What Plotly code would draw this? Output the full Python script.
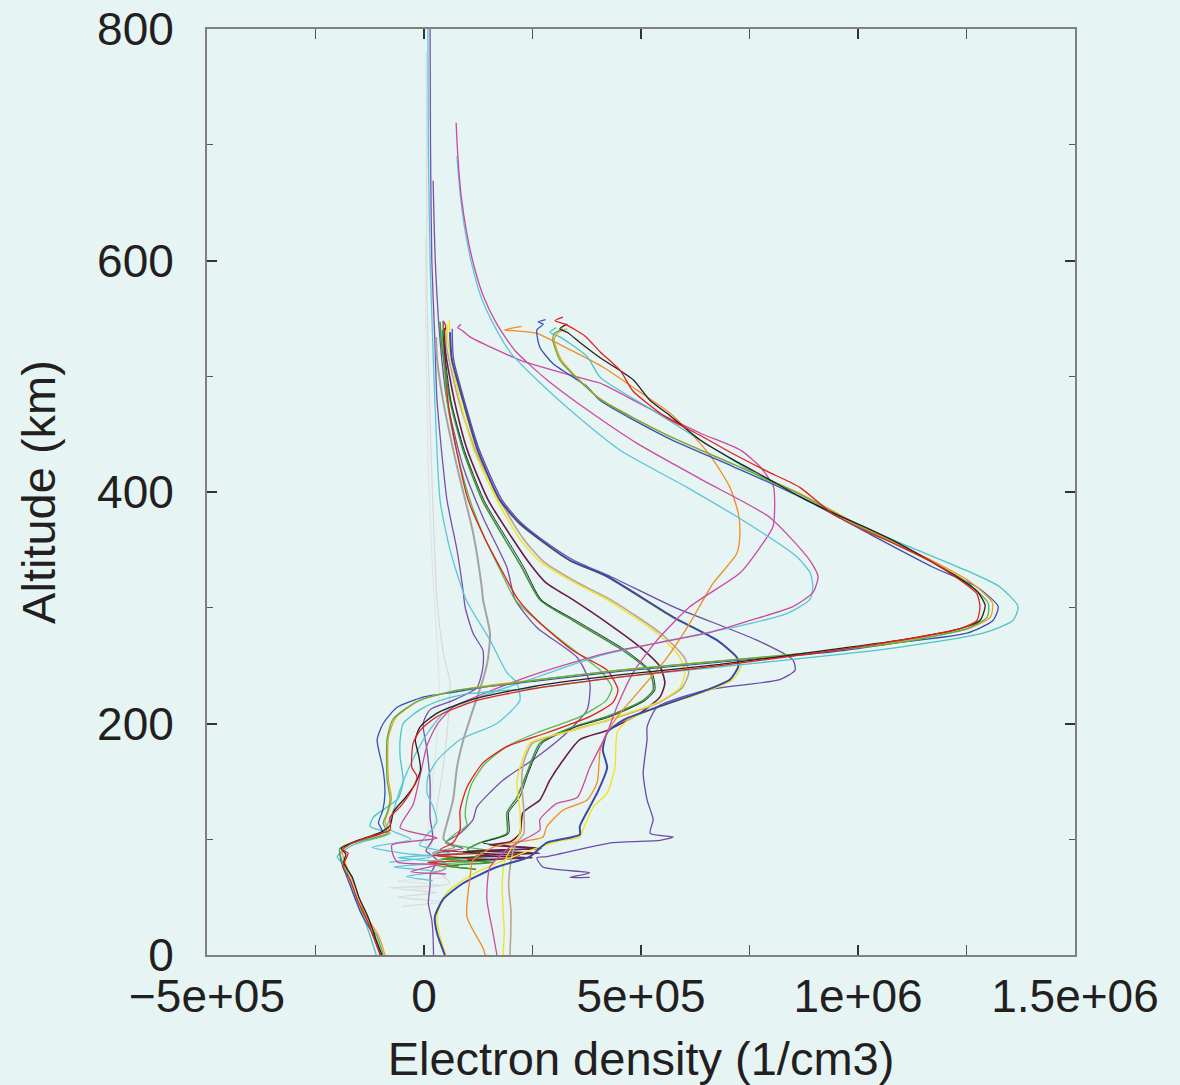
import plotly.graph_objects as go

# Electron density profiles: (density in units of 1e5 cm^-3, altitude in km)
SCALE = 1e5

red_hi = [(3.2,551),(3.02,548),(3.25,545),(3.7,535),(4.06,521),(4.52,505),(4.82,487),(5.6,464),(6.36,449),(7.12,433),(7.9,418),(8.66,404),(9.42,381),(10.2,366),(10.97,353),(11.73,339),(12.35,324),(12.74,312),(12.81,301),(12.74,289),(12.35,282),(10.97,272),(9.42,263),(6.82,250),(4.5,240),(2.67,231),(1.13,219),(0.3,206),(-0.09,194),(-0.25,183),(-0.28,162),(-0.16,154),(-0.32,140),(-0.55,128),(-0.78,119),(-0.78,108),(-1.08,104),(-1.64,97),(-1.87,91),(-1.75,88),(-1.87,76),(-1.7,65),(-1.54,48),(-1.31,30),(-1.17,16),(-1.01,0)]
black_hi = [(3.3,545),(3.13,541),(3.3,538),(3.6,529),(4.06,516),(4.82,497),(5.21,479),(5.6,468),(6.36,445),(7.12,428),(7.9,412),(8.66,396),(9.42,382),(10.2,369),(10.97,355),(11.73,339),(12.35,325),(12.75,314),(12.93,302),(12.81,289),(12.35,282),(10.97,272),(9.42,264),(6.82,251),(4.5,242),(2.67,233),(1.13,221),(0.3,209),(-0.09,197),(-0.2,186),(-0.12,172),(-0.08,160),(-0.2,148),(-0.45,135),(-0.7,124),(-0.78,112),(-1.0,106),(-1.6,98),(-1.9,92),(-1.8,87),(-1.85,80),(-1.65,67),(-1.5,50),(-1.28,32),(-1.12,15),(-0.97,0)]
green_hi = [(3.2,541),(3.0,537),(2.97,531),(3.13,514),(3.5,499),(4.06,480),(5.6,449),(7.12,424),(8.66,398),(10.2,367),(11.73,339),(12.51,322),(13.0,304),(12.98,292),(12.51,282),(10.97,270),(9.42,263),(6.82,254),(4.5,246),(2.67,238),(1.5,232),(0.67,228),(-0.16,219),(-0.71,204),(-0.85,187),(-0.85,151),(-0.78,134),(-0.85,123),(-0.94,114),(-0.85,105),(-1.64,97),(-1.94,92),(-1.87,79),(-1.64,59),(-1.41,36),(-1.08,16),(-0.94,0)]
orange_hi = [(3.3,541),(3.1,538),(3.0,532),(3.15,515),(3.52,499),(4.08,480),(5.62,449),(7.14,424),(8.7,398),(10.25,367),(11.8,339),(12.6,322),(13.1,304),(13.05,292),(12.55,282),(10.97,271),(9.42,263),(6.82,254),(4.5,246),(2.67,238),(1.5,233),(0.67,228),(-0.1,220),(-0.65,205),(-0.82,188),(-0.82,152),(-0.75,135),(-0.82,124),(-0.9,115),(-0.8,106),(-1.6,98),(-1.9,93),(-1.82,80),(-1.6,60),(-1.38,37),(-1.05,17),(-0.9,0)]
blue_hi = [(2.8,549),(2.63,547),(2.75,545),(2.6,540),(2.67,525),(2.97,511),(3.76,491),(4.06,479),(5.6,447),(7.12,422),(8.66,396),(10.2,365),(11.73,335),(12.74,318),(13.23,301),(13.11,289),(12.51,278),(10.97,270),(9.42,262),(6.82,253),(4.5,245),(2.67,237),(1.5,232),(0.67,227),(0.0,223),(-0.62,214),(-0.94,200),(-1.08,186),(-1.0,170),(-0.94,160),(-0.9,140),(-0.95,125),(-1.05,114),(-0.95,106),(-1.64,97),(-1.94,92),(-1.9,80),(-1.7,60),(-1.45,36),(-1.15,16),(-1.0,0)]
teal_hi = [(3.05,542),(2.9,538),(3.13,534),(3.76,517),(4.06,499),(5.21,472),(6.36,445),(7.9,410),(9.42,382),(10.97,356),(12.51,332),(13.27,318),(13.69,301),(13.57,289),(12.88,278),(10.97,266),(9.42,259),(6.82,249),(4.5,240),(2.67,231),(0.9,225),(0.3,219),(-0.09,212),(-0.48,200),(-0.55,186),(-0.55,171),(-0.48,150),(-0.6,135),(-1.17,119),(-1.24,111),(-0.78,105),(-1.64,95),(-2.0,85),(-1.8,76),(-1.64,54),(-1.31,24),(-1.1,0)]

orange_mid = [(2.25,543),(1.85,540),(2.2,539),(2.6,537),(3.36,523),(4.12,508),(4.91,488),(5.67,468),(6.29,445),(6.66,428),(7.05,404),(7.24,382),(7.28,365),(7.21,347),(6.66,321),(6.13,287),(5.6,257),(4.98,229),(4.52,209),(4.22,192),(4.06,177),(3.99,149),(3.76,134),(3.2,125),(2.83,111),(2.74,102),(2.05,97),(1.59,93),(1.13,82),(1.06,67),(0.99,33),(1.36,6),(1.41,0)]
magenta_hi = [(0.74,719),(0.78,690),(0.86,655),(0.98,625),(1.14,597),(1.36,570),(1.68,545),(2.1,522),(2.83,497),(3.76,471),(4.91,442),(6.43,410),(7.97,378),(8.89,341),(9.08,327),(8.96,313),(8.5,301),(7.51,289),(6.52,278),(4.22,261),(2.67,244),(1.45,227),(0.67,214),(0.3,199),(0.07,181),(-0.09,155),(-0.25,130),(-0.55,110),(0.3,101),(-0.74,95),(-0.7,85),(-0.6,80),(0.3,78),(-0.3,72),(0.5,70)]
cyan_hi = [(0.76,690),(0.84,655),(0.95,625),(1.1,597),(1.3,570),(1.6,545),(2.0,520),(2.6,497),(3.36,471),(4.52,436),(6.06,404),(7.58,370),(8.59,344),(8.9,330),(8.96,318),(8.89,307),(8.36,295),(7.12,283),(6.2,276),(4.1,259),(2.67,241),(1.29,223),(0.48,210),(0.05,190),(-0.32,164),(-0.55,143),(-0.7,125),(-0.85,110),(-0.3,100),(-1.2,93),(-0.5,88),(0.2,85),(-0.8,80)]
magenta_bulge = [(0.85,545),(0.78,542),(0.9,539),(1.06,534),(2.21,514),(3.76,497),(4.06,494),(5.2,472),(6.36,451),(7.3,436),(7.74,422),(8.05,405),(8.08,390),(8.04,370),(7.74,352),(7.28,330),(6.13,301),(5.37,272),(4.82,244),(4.45,215),(4.22,192),(3.82,162),(3.53,136),(3.06,131),(2.67,117),(2.67,108),(1.98,93),(1.52,76),(1.45,48),(1.59,19),(1.68,0)]

grey_mid = [(0.28,534),(0.3,515),(0.44,479),(0.76,422),(1.13,365),(1.33,318),(1.36,307),(1.52,278),(1.47,255),(1.36,238),(1.13,212),(0.9,185),(0.76,162),(0.67,134),(0.53,114),(0.45,100),(0.7,93),(0.2,88),(0.6,84),(0.1,80),(0.5,75),(0.15,70)]
grey_faint = [(0.05,780),(0.06,700),(0.07,566),(0.15,450),(0.3,307),(0.45,260),(0.6,235),(0.55,200),(0.44,162),(0.3,128),(0.2,100),(0.1,80),(0.6,62),(-0.8,58),(0.3,54),(-0.6,50),(0.4,46),(-0.5,42)]
grey_faint2 = [(0.03,620),(0.05,520),(0.1,420),(0.2,330),(0.3,270),(0.35,230),(0.3,190),(0.2,150),(0.1,110),(0.05,85),(0.5,68),(-0.6,64),(0.4,60),(-0.4,56)]
cyan_top = [(0.09,800),(0.1,700),(0.14,600),(0.2,531),(0.25,479),(0.37,393),(0.6,350),(0.97,307),(1.52,272),(1.91,244),(2.14,235),(2.21,220),(1.68,200),(0.83,186),(0.3,168),(0.09,154),(0.07,140),(0.21,128),(0.3,115),(0.1,105),(-0.1,95),(0.6,88),(-0.6,84),(0.5,80),(-0.7,76),(0.3,72),(-0.4,68),(0.2,64)]
purple_top = [(0.14,800),(0.15,700),(0.18,600),(0.25,531),(0.3,479),(0.53,393),(0.76,350),(0.9,315),(0.95,300),(1.13,278),(1.36,263),(1.36,249),(1.22,231),(0.67,220),(0.14,212),(-0.02,200),(0.07,177),(0.14,149),(0.14,119),(0.2,100),(0.05,90),(0.3,82),(0.15,70),(0.14,60),(0.1,45),(0.18,30),(0.21,15),(0.22,0)]
purple_c1 = [(0.21,669),(0.26,600),(0.37,531),(0.53,479),(0.9,422),(1.36,378),(1.91,335),(2.1,307),(2.6,283),(3.53,257),(3.82,235),(3.76,212),(3.29,192),(2.6,171),(1.82,151),(1.22,128),(1.13,117),(0.83,105),(0.5,97),(0.9,92),(0.3,88),(0.8,84)]
green_c2 = [(0.42,540),(0.44,525),(0.53,479),(0.75,436),(1.06,393),(1.4,360),(1.75,333),(2.1,307),(2.6,289),(3.36,266),(4.06,246),(4.33,231),(4.2,220),(3.6,206),(2.6,192),(1.9,180),(1.4,165),(1.1,148),(0.99,134),(0.95,120),(0.99,112),(0.7,104),(0.5,97),(1.5,90),(0.3,86),(1.7,82),(0.2,78),(1.0,75)]
red_c3 = [(0.46,547),(0.5,543),(0.47,530),(0.55,479),(0.75,436),(1.02,393),(1.4,360),(1.78,333),(2.17,307),(2.67,287),(3.43,263),(4.22,246),(4.47,229),(4.35,218),(3.82,206),(2.83,192),(1.91,180),(1.36,166),(0.99,145),(0.83,125),(0.83,108),(0.67,97),(0.37,91),(1.3,88),(0.2,86),(1.45,82),(0.1,80),(0.8,77)]
dkgreen_c4 = [(0.37,547),(0.4,530),(0.6,479),(0.9,436),(1.34,393),(1.85,360),(2.25,335),(2.67,307),(3.43,289),(4.59,263),(5.21,244),(5.28,229),(5.05,220),(4.22,206),(3.43,197),(2.67,183),(2.37,157),(2.14,136),(1.91,123),(1.91,105),(1.29,97),(0.99,91),(1.5,86),(0.4,83),(1.6,80),(0.5,77),(1.2,74)]
black_c4 = [(0.44,548),(0.45,530),(0.62,479),(0.93,436),(1.38,393),(1.9,360),(2.3,335),(2.7,307),(3.5,289),(4.65,263),(5.25,244),(5.32,229),(5.1,220),(4.3,206),(3.5,197),(2.72,183),(2.4,157),(2.2,136),(1.95,123),(1.95,105),(1.35,97),(2.6,92),(0.9,89),(2.2,86),(0.7,84)]
maroon_c5 = [(0.48,542),(0.5,520),(0.7,479),(1.0,436),(1.48,393),(2.0,362),(2.4,340),(2.8,322),(3.43,307),(4.22,287),(4.98,266),(5.44,249),(5.55,235),(5.44,223),(4.98,209),(4.22,194),(3.59,186),(3.2,168),(2.9,151),(2.67,134),(2.28,123),(2.21,105),(2.0,98),(1.5,95),(2.7,92),(1.1,90),(2.67,88),(1.2,86),(2.5,84),(1.0,82)]
yellow_c6 = [(0.53,545),(0.55,530),(0.83,479),(1.15,436),(1.68,393),(2.2,360),(2.67,340),(3.45,322),(4.22,307),(5.37,278),(5.9,257),(6.01,244),(5.9,231),(5.37,218),(4.22,203),(3.43,194),(2.44,183),(2.21,162),(2.14,149),(2.21,125),(2.21,105),(2.05,95),(1.85,80),(1.8,60),(1.82,40),(1.85,20),(1.82,0)]
tan_c6 = [(0.5,540),(0.52,525),(0.8,479),(1.18,436),(1.75,393),(2.28,360),(2.75,340),(3.52,322),(4.3,307),(5.45,278),(6.0,257),(6.1,244),(5.95,231),(5.4,218),(4.25,203),(3.4,194),(2.5,183),(2.3,167),(2.25,149),(2.3,125),(2.3,105),(2.1,95),(2.0,80),(1.95,60),(2.0,40),(2.0,20),(1.98,0)]
blue_c7 = [(0.6,538),(0.64,515),(0.9,479),(1.24,436),(1.75,393),(2.2,373),(2.67,359),(3.36,341),(4.22,327),(5.74,292),(6.75,272),(7.21,257),(7.24,249),(7.05,238),(6.52,229),(5.37,214),(4.59,203),(4.22,192),(4.12,177),(4.22,162),(3.99,140),(3.82,128),(3.59,111),(3.59,104),(2.83,97),(2.44,85),(1.68,76),(0.9,62),(0.44,48),(0.25,33),(0.3,19),(0.48,0)]
yellow_c7 = [(0.58,549),(0.62,520),(0.88,479),(1.22,436),(1.72,393),(2.18,373),(2.65,359),(3.34,341),(4.2,327),(5.7,292),(6.75,272),(7.2,257),(7.3,249),(7.12,238),(6.6,229),(5.4,214),(4.7,203),(4.45,192),(4.4,162),(4.22,140),(3.9,128),(3.66,108),(3.59,102),(3.06,98),(2.2,87),(1.13,70),(0.5,53),(0.3,33),(0.35,19),(0.5,0)]
purple_c8 = [(0.65,541),(0.68,515),(0.93,479),(1.28,436),(1.8,393),(2.25,373),(2.72,359),(3.45,341),(4.3,327),(5.74,301),(7.67,272),(8.5,255),(8.55,246),(8.2,238),(6.52,229),(5.37,214),(5.14,197),(5.14,186),(5.05,157),(5.14,134),(5.28,117),(5.21,105),(5.74,102),(5.44,99),(4.35,97),(2.83,85),(2.6,84),(2.74,76),(3.82,71),(3.36,67),(3.82,67)]

# Axis ticks
x_tick_vals = [-5e5, 0, 5e5, 1e6, 1.5e6]
x_tick_text = ["\u22125e+05", "0", "5e+05", "1e+06", "1.5e+06"]
x_minor_vals = [-2.5e5, 2.5e5, 7.5e5, 1.25e6]
y_tick_vals = [0, 200, 400, 600, 800]
y_minor_vals = [100, 300, 500, 700]

BG = "#e6f4f3"

# (profile, colour, line width) in drawing order
traces = [
    (grey_faint2, "#e2e2e2", 1.0),
    (grey_faint, "#d9d9d9", 1.2),
    (purple_top, "#7a4fa6", 1.3),
    (cyan_top, "#5cc6d8", 1.3),
    (grey_mid, "#a3a3a3", 2.0),
    (purple_c1, "#7a4fa6", 1.3),
    (green_c2, "#5cb84a", 1.3),
    (red_c3, "#e3201c", 1.3),
    (dkgreen_c4, "#3a9a3a", 1.6),
    (black_c4, "#2a2a2a", 1.0),
    (maroon_c5, "#6a1a4a", 1.6),
    (tan_c6, "#bba58e", 1.6),
    (yellow_c6, "#f2e21a", 1.3),
    (purple_c8, "#6d4aa8", 1.3),
    (yellow_c7, "#f2e21a", 1.3),
    (blue_c7, "#3b49a6", 2.0),
    (orange_mid, "#f58a1f", 1.3),
    (magenta_bulge, "#cc4aa0", 1.3),
    (cyan_hi, "#5cc6d8", 1.3),
    (magenta_hi, "#cc4aa0", 1.3),
    (teal_hi, "#4fc4c4", 1.3),
    (blue_hi, "#3b4fb0", 1.3),
    (orange_hi, "#f59a2a", 1.3),
    (green_hi, "#5cb040", 1.3),
    (black_hi, "#222222", 1.3),
    (red_hi, "#e3201c", 1.3),
]

fig = go.Figure()
for pts, color, width in traces:
    fig.add_trace(go.Scatter(
        x=[p[0] * SCALE for p in pts],
        y=[p[1] for p in pts],
        mode="lines",
        line=dict(color=color, width=width, shape="spline", smoothing=0.6),
        showlegend=False,
        hoverinfo="skip",
    ))

axis_common = dict(
    ticks="inside", tickcolor="#333333", tickwidth=1.5,
    showline=True, linecolor="#808080", linewidth=2, mirror="ticks",
    showgrid=False, zeroline=False, automargin=False,
)

fig.update_xaxes(
    range=[-5e5, 1.5e6], tickmode="array", tickvals=x_tick_vals, ticktext=x_tick_text,
    ticklen=10, ticklabelstandoff=0,
    minor=dict(tickvals=x_minor_vals, ticks="inside", ticklen=10, tickwidth=1, tickcolor="#555555"),
    title=dict(text="Electron density (1/cm3)", font=dict(size=47), standoff=30),
    **axis_common,
)
fig.update_yaxes(
    range=[0, 800], tickmode="array", tickvals=y_tick_vals,
    ticklen=10, ticklabelstandoff=22,
    minor=dict(tickvals=y_minor_vals, ticks="inside", ticklen=6, tickwidth=1, tickcolor="#555555"),
    title=dict(text="Altitude (km)", font=dict(size=47), standoff=27),
    **axis_common,
)

fig.update_layout(
    width=1180, height=1085,
    margin=dict(l=207, r=105, t=29, b=130),
    paper_bgcolor=BG, plot_bgcolor=BG,
    font=dict(family="Liberation Sans, Arial, sans-serif", size=46, color="#231f20"),
)

fig.write_html("out.html")
